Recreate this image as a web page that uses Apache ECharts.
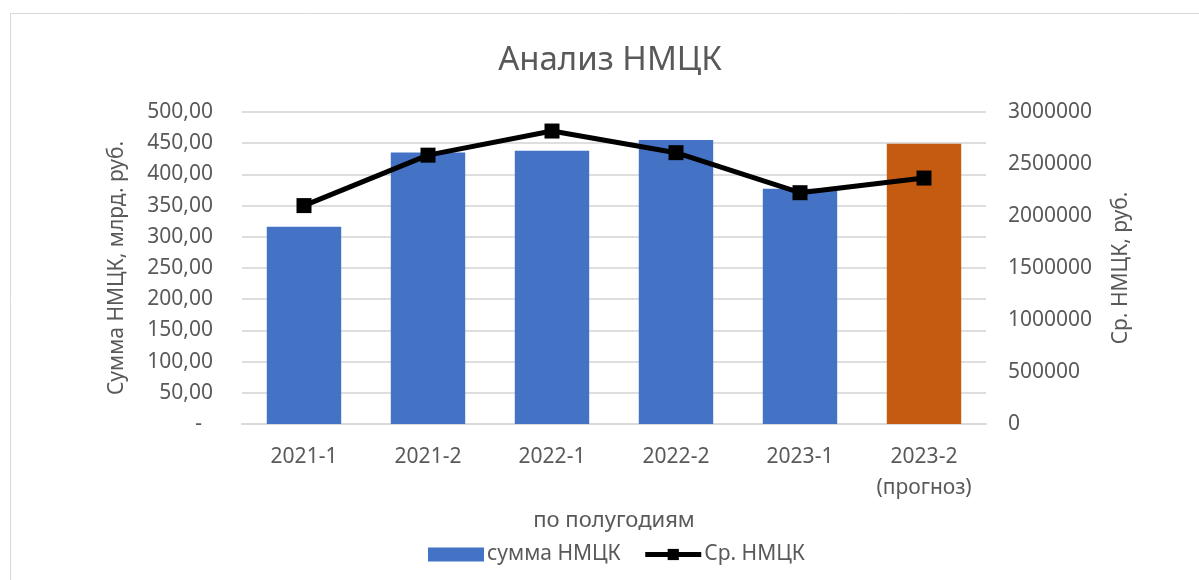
<!DOCTYPE html>
<html>
<head>
<meta charset="utf-8">
<script src="https://cdn.jsdelivr.net/npm/echarts@6/dist/echarts.min.js"></script>
<style>
	html, body { margin: 0; padding: 0; background: #fff; }
	#chart { width: 1199px; height: 580px; }
</style>
</head>
<body>
<div id="chart"></div>
<script>
const categories = ['2021-1', '2021-2', '2022-1', '2022-2', '2023-1', '2023-2\n(прогноз)']
const sumValues = [316, 435, 438, 455, 377, 449]
const avgValues = [2100000, 2585000, 2817000, 2609000, 2224000, 2365000]
const leftTicks = { min: 0, max: 500, interval: 50 }
const rightTicks = { min: 0, max: 3000000, interval: 500000 }

const font = '"Noto Sans", "Open Sans", sans-serif'
const textColor = '#595959'
const barBlue = '#4472C4'
const barOrange = '#C55A11'

const node = document.getElementById('chart')
const myChart = echarts.init(node)

const option = {
	animation: false,
	textStyle: { fontFamily: font },
	graphic: [
		{
			type: 'rect',
			shape: { x: 10.5, y: 13.5, width: 1400, height: 800 },
			style: { fill: 'none', stroke: '#d9d9d9', lineWidth: 1 },
			silent: true
		}
	],
	title: {
		text: 'Анализ НМЦК',
		left: 605,
		top: 39,
		textAlign: 'center',
		textStyle: {
			fontFamily: font,
			fontWeight: 400,
			fontSize: 33,
			color: textColor
		}
	},
	legend: {
		left: 423,
		top: 539,
		itemWidth: 56,
		itemHeight: 14,
		itemGap: 22,
		textStyle: { fontFamily: font, fontSize: 21, color: textColor, padding: [0, 0, 0, -2] },
		data: [
			{ name: 'сумма НМЦК', icon: 'rect' },
			{ name: 'Ср. НМЦК', lineStyle: { width: 5, color: '#000' } }
		]
	},
	grid: {
		left: 242,
		right: 213,
		top: 112,
		bottom: 156
	},
	xAxis: {
		type: 'category',
		data: categories,
		name: 'по полугодиям',
		nameLocation: 'middle',
		nameGap: 86,
		nameTextStyle: { fontFamily: font, fontSize: 22, color: textColor },
		axisLine: { show: true, lineStyle: { color: '#d9d9d9', width: 2 } },
		axisTick: { show: false },
		axisLabel: {
			fontFamily: font,
			fontSize: 21,
			color: textColor,
			margin: 18,
			lineHeight: 31
		}
	},
	yAxis: [
		{
			type: 'value',
			min: leftTicks.min,
			max: leftTicks.max,
			interval: leftTicks.interval,
			name: 'Сумма НМЦК, млрд. руб.',
			nameLocation: 'middle',
			nameRotate: 90,
			nameGap: 114,
			nameTextStyle: { fontFamily: font, fontSize: 21, color: textColor },
			axisLine: { show: false },
			axisTick: { show: false },
			splitLine: { lineStyle: { color: '#dedede', width: 2 } },
			axisLabel: {
				fontFamily: font,
				fontSize: 21,
				color: textColor,
				margin: 29,
				formatter: (v) => (v === 0 ? '-  ' : v.toFixed(2).replace('.', ','))
			}
		},
		{
			type: 'value',
			min: rightTicks.min,
			max: rightTicks.max,
			interval: rightTicks.interval,
			name: 'Ср. НМЦК, руб.',
			nameLocation: 'middle',
			nameRotate: 90,
			nameGap: 125,
			nameTextStyle: { fontFamily: font, fontSize: 21, color: textColor },
			axisLine: { show: false },
			axisTick: { show: false },
			splitLine: { show: false },
			axisLabel: {
				fontFamily: font,
				fontSize: 21,
				color: textColor,
				margin: 22,
				formatter: (v) => String(v)
			}
		}
	],
	series: [
		{
			name: 'сумма НМЦК',
			type: 'bar',
			yAxisIndex: 0,
			barWidth: '60%',
			itemStyle: { color: barBlue },
			data: sumValues.map((v, i) => (i === sumValues.length - 1
				? { value: v, itemStyle: { color: barOrange } }
				: v))
		},
		{
			name: 'Ср. НМЦК',
			type: 'line',
			yAxisIndex: 1,
			symbol: 'rect',
			symbolSize: 15,
			showAllSymbol: true,
			lineStyle: { color: '#000', width: 5 },
			itemStyle: { color: '#000' },
			data: avgValues,
			z: 5
		}
	]
}

myChart.setOption(option)

window.addEventListener('resize', () => {
	myChart.resize()
})
</script>
</body>
</html>
